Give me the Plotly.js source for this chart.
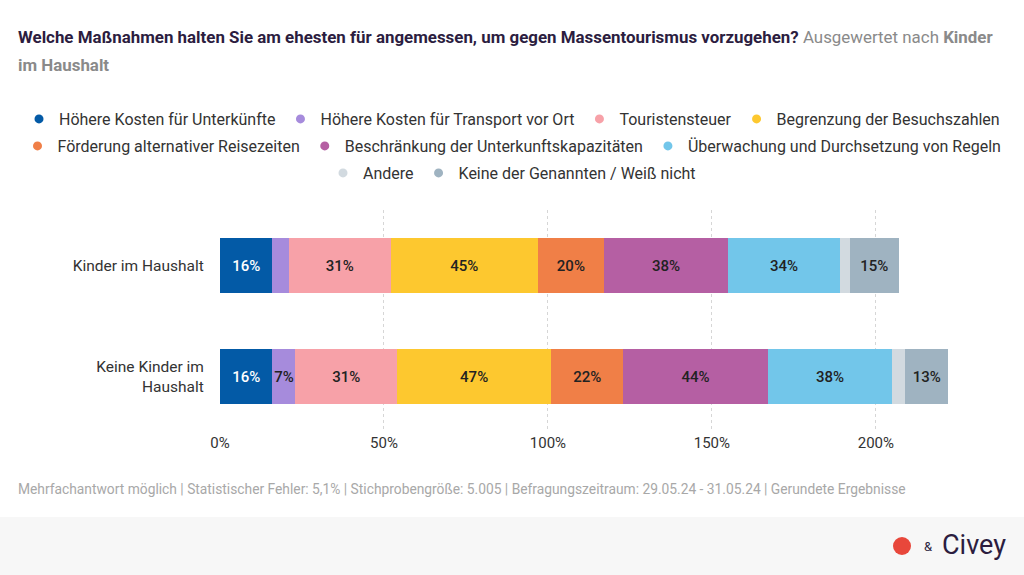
<!DOCTYPE html>
<html>
<head>
<meta charset="utf-8">
<script src="https://cdn.plot.ly/plotly-3.0.1.min.js"></script>
<style>html,body{margin:0;padding:0;background:#fff;}#chart{width:1024px;height:575px;}</style>
</head>
<body>
<div id="chart"></div>
<script>
const categories = ["Kinder im Haushalt", "Keine Kinder im<br>Haushalt"];
const seriesNames = [
  "Höhere Kosten für Unterkünfte",
  "Höhere Kosten für Transport vor Ort",
  "Touristensteuer",
  "Begrenzung der Besuchszahlen",
  "Förderung alternativer Reisezeiten",
  "Beschränkung der Unterkunftskapazitäten",
  "Überwachung und Durchsetzung von Regeln",
  "Andere",
  "Keine der Genannten / Weiß nicht"
];
const hoehereKostenUnterkuenfte = [16, 16];
const hoehereKostenTransport = [5, 7];
const touristensteuer = [31, 31];
const begrenzungBesuchszahlen = [45, 47];
const foerderungReisezeiten = [20, 22];
const beschraenkungKapazitaeten = [38, 44];
const ueberwachungRegeln = [34, 38];
const andere = [3, 4];
const keineDerGenannten = [15, 13];
const seriesValues = [hoehereKostenUnterkuenfte, hoehereKostenTransport, touristensteuer,
  begrenzungBesuchszahlen, foerderungReisezeiten, beschraenkungKapazitaeten,
  ueberwachungRegeln, andere, keineDerGenannten];
const xTickValues = [0, 50, 100, 150, 200];
const xTickLabels = ["0%", "50%", "100%", "150%", "200%"];

const colors = ["#035aa6", "#a68bdc", "#f7a1a8", "#fdc82f", "#f07f47", "#b55fa3", "#72c6ea", "#d2dae0", "#9fb3c1"];
const textColors = ["#ffffff", "#222222", "#222222", "#222222", "#222222", "#222222", "#222222", "#222222", "#222222"];
const legendRow = ["legend", "legend", "legend", "legend", "legend2", "legend2", "legend2", "legend3", "legend3"];

// layout geometry (pixels)
const W = 1024, H = 575;
const ML = 20, MR = 20, MT = 210, MB = 143;
const PW = W - ML - MR, PH = H - MT - MB;
const px = x => (x - ML) / PW;
const py = y => (H - MB - y) / PH;

const traces = [];
seriesValues.forEach((vals, i) => {
  traces.push({
    type: "bar",
    orientation: "h",
    name: seriesNames[i],
    y: categories,
    x: vals,
    marker: {color: colors[i], line: {width: 0}},
    text: vals.map(v => (i === 7 || v < 6) ? "" : v + "%"),
    textposition: "inside",
    insidetextanchor: "middle",
    textangle: 0,
    textfont: {family: "Roboto, sans-serif", size: 15, color: textColors[i], weight: 500},
    hoverinfo: "skip",
    showlegend: false,
    cliponaxis: false
  });
});
seriesValues.forEach((vals, i) => {
  traces.push({
    type: "scatter",
    mode: "markers",
    name: seriesNames[i],
    x: [null], y: [null],
    marker: {color: colors[i], size: 9, symbol: "circle"},
    legend: legendRow[i],
    showlegend: true,
    hoverinfo: "skip"
  });
});

const legendBase = {
  orientation: "h", xanchor: "center", x: 0.5, yanchor: "middle",
  xref: "paper", yref: "container",
  font: {family: "Roboto, sans-serif", size: 16, color: "#333"},
  itemclick: false, itemdoubleclick: false, traceorder: "normal",
  bgcolor: "rgba(0,0,0,0)", tracegroupgap: 0, itemwidth: 30
};

const layout = {
  width: W, height: H,
  paper_bgcolor: "#ffffff", plot_bgcolor: "#ffffff",
  margin: {l: ML, r: MR, t: MT, b: MB},
  barmode: "stack",
  bargap: 0.5,
  uniformtext: {mode: "show", minsize: 15},
  font: {family: "Roboto, sans-serif", color: "#333"},
  title: {
    text: "<b>Welche Maßnahmen halten Sie am ehesten für angemessen, um gegen Massentourismus vorzugehen?</b> <span style='color:#8a8a8a'>Ausgewertet nach <b>Kinder</b></span>",
    x: 18/W, xanchor: "left", xref: "container", y: 1 - 37/H, yanchor: "middle", yref: "container",
    font: {family: "Roboto, sans-serif", size: 16.9, color: "#2c1d3f"}
  },
  xaxis: {
    domain: [px(220), px(948)],
    range: [0, 222], tickvals: xTickValues, ticktext: xTickLabels,
    showgrid: true, gridcolor: "#d6d6d6", griddash: "dot", gridwidth: 1,
    zeroline: false, showline: false, ticks: "",
    tickfont: {family: "Roboto, sans-serif", size: 15, color: "#333"},
    fixedrange: true
  },
  yaxis: {
    autorange: "reversed",
    showgrid: false, zeroline: false, showline: false, ticks: "outside", ticklen: 12, tickcolor: "rgba(0,0,0,0)",
    tickfont: {family: "Roboto, sans-serif", size: 15.5, color: "#333"},
    fixedrange: true
  },
  legend: Object.assign({}, legendBase, {y: 1 - 119/H}),
  legend2: Object.assign({}, legendBase, {y: 1 - 146/H}),
  legend3: Object.assign({}, legendBase, {y: 1 - 173/H}),
  shapes: [
    {type: "rect", xref: "paper", yref: "paper", x0: px(0), x1: px(W), y0: py(H), y1: py(517),
     fillcolor: "#f7f7f7", line: {width: 0}, layer: "below"},
    {type: "circle", xref: "paper", yref: "paper",
     x0: px(893), x1: px(911), y0: py(555), y1: py(537),
     fillcolor: "#e8473b", line: {width: 0}}
  ],
  annotations: [
    {text: "<b>im Haushalt</b>", xref: "paper", yref: "paper", x: px(16), y: py(65),
     xanchor: "left", yanchor: "middle", showarrow: false,
     font: {family: "Roboto, sans-serif", size: 16.9, color: "#8a8a8a"}},
    {text: "Mehrfachantwort möglich | Statistischer Fehler: 5,1% | Stichprobengröße: 5.005 | Befragungszeitraum: 29.05.24 - 31.05.24 | Gerundete Ergebnisse",
     xref: "paper", yref: "paper", x: px(16), y: py(489), xanchor: "left", yanchor: "middle", showarrow: false,
     font: {family: "Roboto, sans-serif", size: 13.8, color: "#a8a8a8"}},
    {text: "&", xref: "paper", yref: "paper", x: px(928), y: py(546), xanchor: "center", yanchor: "middle", showarrow: false,
     font: {family: "Roboto, sans-serif", size: 13, color: "#2c1d3f"}},
    {text: "Civey", xref: "paper", yref: "paper", x: px(940), y: py(545), xanchor: "left", yanchor: "middle", showarrow: false,
     font: {family: "Roboto, sans-serif", size: 27, color: "#2c1d3f"}}
  ]
};

Plotly.newPlot("chart", traces, layout, {displayModeBar: false, staticPlot: true});
</script>
</body>
</html>
